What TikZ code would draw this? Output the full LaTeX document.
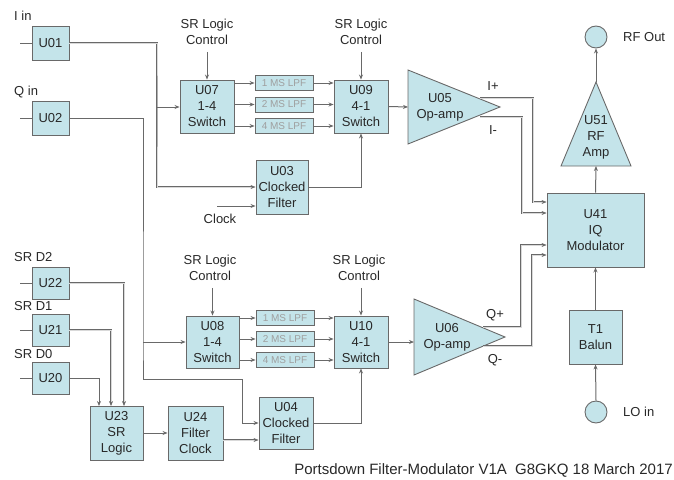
\documentclass[tikz,border=0pt]{standalone}
\usepackage{fontspec}
\setmainfont{Liberation Sans}
\usetikzlibrary{arrows.meta}
\definecolor{boxc}{RGB}{196,228,234}
\definecolor{edgec}{RGB}{105,105,105}
\definecolor{linec}{RGB}{105,105,105}
\definecolor{txtc}{RGB}{40,40,40}
\begin{document}
\begin{tikzpicture}[x=1pt,y=-1pt,
  font=\fontsize{13}{16}\selectfont, text=txtc,
  blk/.style={draw=edgec, fill=boxc, line width=0.9pt, align=center, inner sep=0pt},
  lpf/.style={draw=edgec, fill=boxc, line width=0.9pt, minimum width=58pt, minimum height=15pt, inner sep=0pt, font=\fontsize{10}{10}\selectfont, text=gray!75},
  tri/.style={draw=edgec, fill=boxc, line width=0.9pt, line join=miter},
  wire/.style={draw=linec, line width=1pt},
  bus/.style={draw=linec, line width=0.6pt, double=gray!30, double distance=0.9pt},
  arr/.style={-{Stealth[length=5pt,width=4pt]}},
  lbl/.style={align=center, inner sep=0pt},
  io/.style={circle, draw=edgec, fill=boxc, line width=0.9pt, minimum size=22pt, inner sep=0pt}]
\useasboundingbox (0,0) rectangle (674,479);

% ---------- input blocks ----------
\node[lbl, anchor=west] (lin) at (14,16) {I in};
\node[blk, minimum width=37pt, minimum height=34pt] (u01) at (50.5,43) {U01};
\node[lbl, anchor=west] (lqin) at (14,92) {Q in};
\node[blk, minimum width=37pt, minimum height=34pt] (u02) at (50.5,118) {U02};
\node[lbl, anchor=west] (ld2) at (14,257) {SR D2};
\node[blk, minimum width=37pt, minimum height=32pt] (u22) at (50.5,283) {U22};
\node[lbl, anchor=west] (ld1) at (14,306) {SR D1};
\node[blk, minimum width=37pt, minimum height=32pt] (u21) at (50.5,330) {U21};
\node[lbl, anchor=west] (ld0) at (14,354) {SR D0};
\node[blk, minimum width=37pt, minimum height=32pt] (u20) at (50.5,378) {U20};
\coordinate (s01) at (20,43);
\coordinate (s02) at (20,118);
\coordinate (s22) at (20,283);
\coordinate (s21) at (20,330);
\coordinate (s20) at (20,378);
\draw[wire] (s01) -- (u01.west);
\draw[wire] (s02) -- (u02.west);
\draw[wire] (s22) -- (u22.west);
\draw[wire] (s21) -- (u21.west);
\draw[wire] (s20) -- (u20.west);

% ---------- I channel ----------
\node[lbl] (c07) at (207,32) {SR Logic\\Control};
\node[lbl] (c09) at (361,32) {SR Logic\\Control};
\node[blk, minimum width=54pt, minimum height=53pt] (u07) at (207,106.5) {U07\\1-4\\Switch};
\node[blk, minimum width=54pt, minimum height=53pt] (u09) at (361,106.5) {U09\\4-1\\Switch};
\node[lpf] (f1) at (284,83) {1 MS LPF};
\node[lpf] (f2) at (284,104.5) {2 MS LPF};
\node[lpf] (f3) at (284,126) {4 MS LPF};
\node[blk, minimum width=52pt, minimum height=54pt] (u03) at (282,187) {U03\\Clocked\\Filter};
\node[lbl] (clk) at (220,219) {Clock};
\coordinate (clkin) at (217,206);

% ---------- Q channel ----------
\node[lbl] (c08) at (210,268) {SR Logic\\Control};
\node[lbl] (c10) at (359,268) {SR Logic\\Control};
\node[blk, minimum width=53pt, minimum height=52pt] (u08) at (212.5,342) {U08\\1-4\\Switch};
\node[blk, minimum width=54pt, minimum height=52pt] (u10) at (361,342) {U10\\4-1\\Switch};
\node[lpf] (g1) at (285,318) {1 MS LPF};
\node[lpf] (g2) at (285,339) {2 MS LPF};
\node[lpf] (g3) at (285,360) {4 MS LPF};
\node[blk, minimum width=54pt, minimum height=52pt] (u04) at (286,423) {U04\\Clocked\\Filter};
\node[blk, minimum width=53pt, minimum height=54pt] (u23) at (116.5,433) {U23\\SR\\Logic};
\node[blk, minimum width=55pt, minimum height=54pt] (u24) at (195.5,433) {U24\\Filter\\Clock};

% ---------- op-amps ----------
\draw[tri] (408,70) -- (500,107) -- (408,144) -- cycle;
\coordinate (u05in) at (408,107);
\node[lbl] (u05) at (440,107) {U05\\Op-amp};
\draw[tri] (414,299) -- (505,337) -- (414,375) -- cycle;
\coordinate (u06in) at (414,342);
\node[lbl] (u06) at (447,337) {U06\\Op-amp};
\coordinate (ip) at (480,98);
\coordinate (im) at (480,117);
\coordinate (qp) at (483,327);
\coordinate (qm) at (483,346);
\node[lbl] (lip) at (493,86) {I+};
\node[lbl] (lim) at (493,130) {I-};
\node[lbl] (lqp) at (495,315) {Q+};
\node[lbl] (lqm) at (495,360) {Q-};

% ---------- modulator / output ----------
\node[blk, minimum width=97pt, minimum height=74pt] (u41) at (595.5,230) {U41\\IQ\\Modulator};
\draw[tri] (561,166) -- (596,82) -- (631,166) -- cycle;
\coordinate (u51b) at (596,166);
\coordinate (u51a) at (596,82);
\node[lbl] (u51) at (596,137) {U51\\RF\\Amp};
\node[io] (rfout) at (596,37) {};
\node[lbl, anchor=west] (lrf) at (623,37) {RF Out};
\node[blk, minimum width=53pt, minimum height=54pt] (t1) at (595.5,337) {T1\\Balun};
\node[io] (loin) at (596,412) {};
\node[lbl, anchor=west] (llo) at (623,412) {LO in};

\node[lbl, anchor=east, font=\fontsize{15}{15}\selectfont] (cap) at (673,470) {Portsdown Filter-Modulator V1A\ \ G8GKQ 18 March 2017};

% ---------- connectors ----------
\coordinate (j1) at (157,107);
\coordinate (j2) at (143,342);
\draw[bus,arr] (u01.east) -| (j1) |- (u03.west);
\draw[wire,arr] (j1) -- (u07.west |- j1);
\draw[wire,arr] (u02.east) -| (j2) -- (143,379) -| (242,423) -- (u04.west);
\draw[wire,arr] (j2) -- (u08.west);

\draw[wire,arr] (c07.south -| u07.north) ++(0,7) -- (u07.north);
\draw[wire,arr] (c09.south -| u09.north) ++(0,7) -- (u09.north);
\draw[wire,arr] (c08.south -| u08.north) ++(0,7) -- (u08.north);
\draw[wire,arr] (c10.south -| u10.north) ++(0,7) -- (u10.north);

\foreach \f in {f1,f2,f3}{
  \draw[wire,arr] (u07.east |- \f.west) -- (\f.west);
  \draw[wire,arr] (\f.east) -- (u09.west |- \f.east);
}
\foreach \f in {g1,g2,g3}{
  \draw[wire,arr] (u08.east |- \f.west) -- (\f.west);
  \draw[wire,arr] (\f.east) -- (u10.west |- \f.east);
}
\draw[wire,arr] (u03.east) -| (u09.south);
\draw[wire,arr] (clkin) -- (u03.west |- clkin);
\draw[wire,arr] (u04.east) -| (u10.south);
\draw[bus,arr] (u24.east |- 0,440) -- (u04.west |- 0,440);
\draw[wire,arr] (u23.east) -- (u24.west);
\draw[bus,arr] (u22.east) -| (124,406);
\draw[bus,arr] (u21.east) -| (111,406);
\draw[wire,arr] (u20.east) -| (99,406);

\draw[wire,arr] (u09.east) -- (u05in);
\draw[wire,arr] (u10.east) -- (u06in);
\draw[bus,arr] (ip) -- (533,98) |- (u41.west |- 0,202);
\draw[bus,arr] (im) -- (522,117) |- (u41.west |- 0,213);
\draw[bus,arr] (qp) -- (521,327) |- (u41.west |- 0,245);
\draw[bus,arr] (qm) -- (532,346) |- (u41.west |- 0,255);

\draw[wire,arr] (u41.north) -- (u51b);
\draw[wire,arr] (u51a) -- (rfout.south);
\draw[wire,arr] (loin.north) -- (t1.south);
\draw[wire,arr] (t1.north) -- (u41.south);
\end{tikzpicture}
\end{document}
